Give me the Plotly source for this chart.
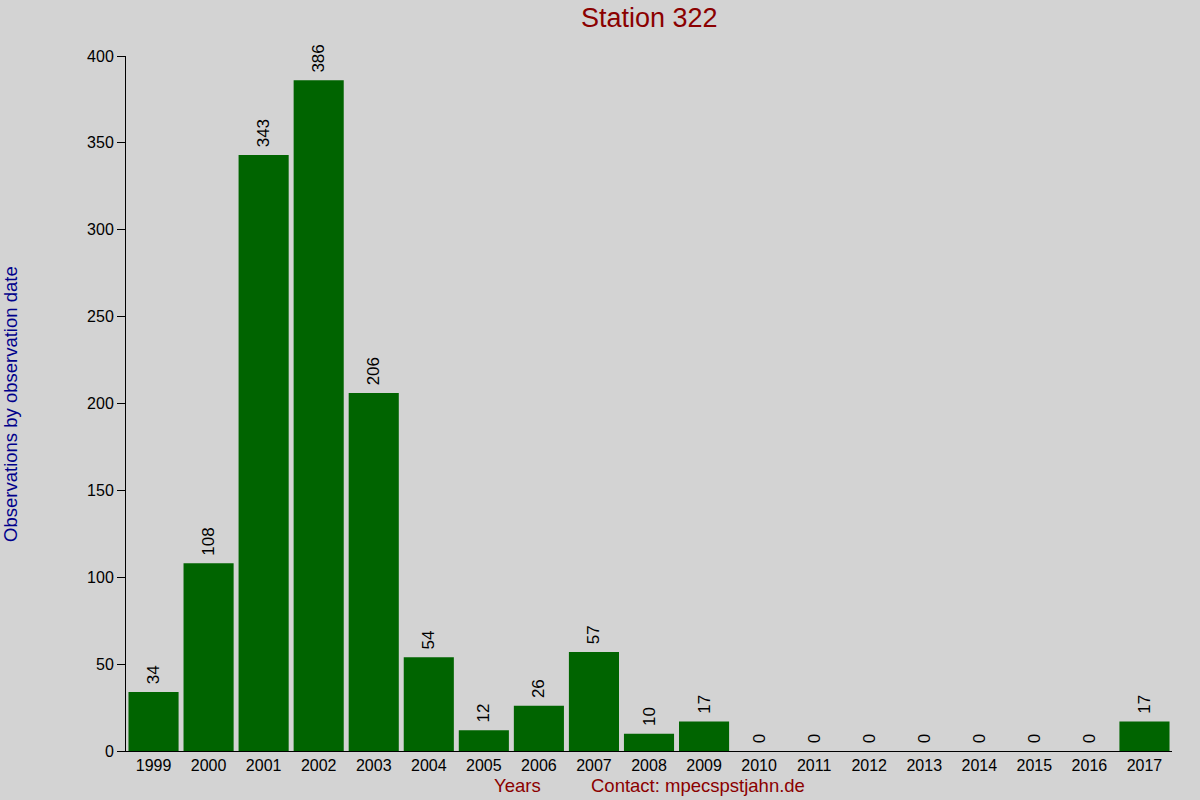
import plotly.graph_objects as go

years = [str(y) for y in range(1999, 2018)]
counts = [34, 108, 343, 386, 206, 54, 12, 26, 57, 10, 17, 0, 0, 0, 0, 0, 0, 0, 17]

FONT = "Liberation Sans, Arial, sans-serif"

fig = go.Figure()
fig.add_trace(go.Bar(
    x=years,
    y=counts,
    marker=dict(color="#006400", line=dict(width=0)),
    # leading nbsp gives the small gap between bar top and the rotated label
    text=["\u00a0" + str(c) for c in counts],
    textposition="outside",
    textangle=-90,
    textfont=dict(family=FONT, size=17, color="#000000"),
    cliponaxis=False,
    hoverinfo="x+y",
))

fig.update_layout(
    width=1200,
    height=800,
    paper_bgcolor="#D3D3D3",
    plot_bgcolor="#D3D3D3",
    margin=dict(l=126, r=28, t=56, b=49),
    bargap=0.09,
    showlegend=False,
    font=dict(family=FONT, size=16, color="#000000"),
    title=dict(
        text="Station 322",
        font=dict(family=FONT, size=27, color="#8B0000"),
        x=0.541, xanchor="center", y=0.978, yanchor="middle",
    ),
    xaxis=dict(
        showgrid=False,
        showline=True, linecolor="#000000", linewidth=1,
        ticks="", tickfont=dict(size=16),
        zeroline=False,
    ),
    yaxis=dict(
        range=[0, 400],
        tickvals=[0, 50, 100, 150, 200, 250, 300, 350, 400],
        showgrid=False, zeroline=False,
        showline=True, linecolor="#000000", linewidth=1,
        ticks="outside", ticklen=8, tickcolor="#000000",
        tickfont=dict(size=16),
    ),
    annotations=[
        dict(text="Observations by observation date", xref="paper", yref="paper",
             x=-0.1105, y=0.5, xanchor="center", yanchor="middle", textangle=-90,
             showarrow=False, font=dict(family=FONT, size=18.5, color="#00008B")),
        dict(text="Years", xref="paper", yref="paper", x=0.374, y=-0.05,
             xanchor="center", yanchor="middle", showarrow=False,
             font=dict(family=FONT, size=18.5, color="#8B0000")),
        dict(text="Contact: mpecspstjahn.de", xref="paper", yref="paper", x=0.547, y=-0.05,
             xanchor="center", yanchor="middle", showarrow=False,
             font=dict(family=FONT, size=18.5, color="#8B0000")),
    ],
)

fig.write_html("out.html", config={"displayModeBar": False},
               post_script="document.body.style.margin='0';")
